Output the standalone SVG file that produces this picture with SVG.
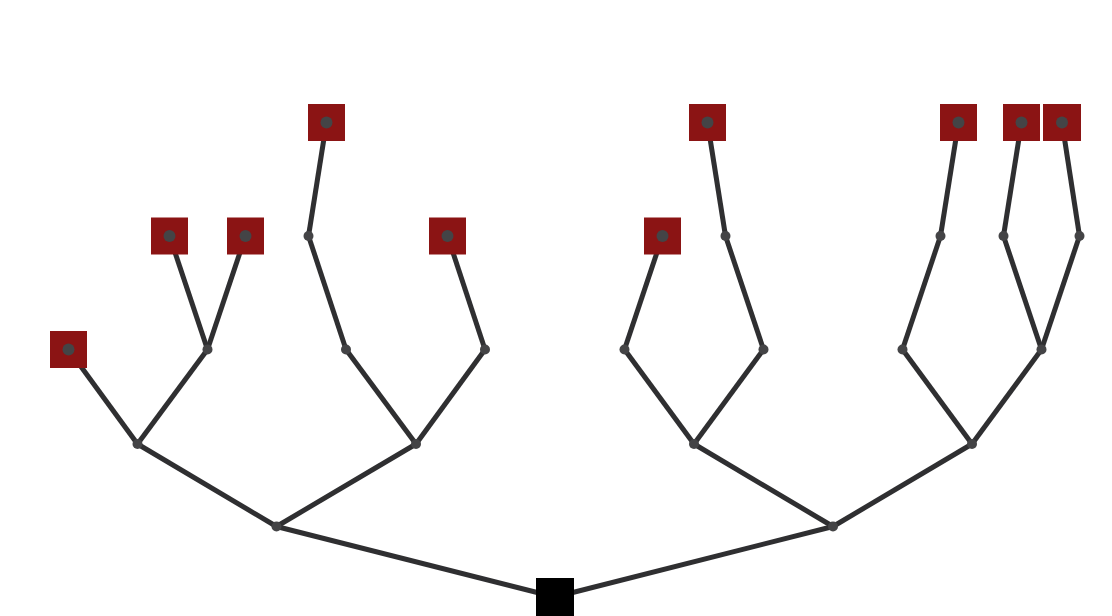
<svg xmlns="http://www.w3.org/2000/svg" width="1112" height="616" viewBox="0 0 1112 616">
<style>
.e{stroke:#2f2f31;stroke-width:5;fill:none;stroke-linecap:butt}
.leaf{fill:#8b1414}
.dot{fill:#444446}
.root{fill:#000}
</style>
<rect width="1112" height="616" fill="#fff"/>
<g id="connectors">
<line class="e" x1="555" y1="597" x2="276.5" y2="526.5"/>
<line class="e" x1="555" y1="597" x2="833" y2="526.5"/>
<line class="e" x1="276.5" y1="526.5" x2="137.5" y2="444"/>
<line class="e" x1="276.5" y1="526.5" x2="416" y2="444"/>
<line class="e" x1="137.5" y1="444" x2="68.5" y2="349.5"/>
<line class="e" x1="137.5" y1="444" x2="207.5" y2="349.5"/>
<line class="e" x1="207.5" y1="349.5" x2="169.5" y2="236"/>
<line class="e" x1="207.5" y1="349.5" x2="245.5" y2="236"/>
<line class="e" x1="416" y1="444" x2="346" y2="349.5"/>
<line class="e" x1="416" y1="444" x2="485" y2="349.5"/>
<line class="e" x1="346" y1="349.5" x2="308.5" y2="236"/>
<line class="e" x1="308.5" y1="236" x2="326.5" y2="122.5"/>
<line class="e" x1="485" y1="349.5" x2="447.5" y2="236"/>
<line class="e" x1="833" y1="526.5" x2="694" y2="444"/>
<line class="e" x1="833" y1="526.5" x2="972" y2="444"/>
<line class="e" x1="694" y1="444" x2="624.5" y2="349.5"/>
<line class="e" x1="694" y1="444" x2="763.5" y2="349.5"/>
<line class="e" x1="624.5" y1="349.5" x2="662.5" y2="236"/>
<line class="e" x1="763.5" y1="349.5" x2="725.5" y2="236"/>
<line class="e" x1="725.5" y1="236" x2="707.5" y2="122.5"/>
<line class="e" x1="972" y1="444" x2="902.5" y2="349.5"/>
<line class="e" x1="972" y1="444" x2="1041.5" y2="349.5"/>
<line class="e" x1="902.5" y1="349.5" x2="940.5" y2="236"/>
<line class="e" x1="940.5" y1="236" x2="958.5" y2="122.5"/>
<line class="e" x1="1041.5" y1="349.5" x2="1003.5" y2="236"/>
<line class="e" x1="1041.5" y1="349.5" x2="1079.5" y2="236"/>
<line class="e" x1="1003.5" y1="236" x2="1021.5" y2="122.5"/>
<line class="e" x1="1079.5" y1="236" x2="1062" y2="122.5"/>
</g>
<g id="root"><rect class="root" x="536" y="578" width="38" height="38"/></g>
<g id="n1"><circle class="dot" cx="276.5" cy="526.5" r="5"/></g>
<g id="n2"><circle class="dot" cx="833" cy="526.5" r="5"/></g>
<g id="n3"><circle class="dot" cx="137.5" cy="444" r="5"/></g>
<g id="n4"><circle class="dot" cx="416" cy="444" r="5"/></g>
<g id="n5"><circle class="dot" cx="694" cy="444" r="5"/></g>
<g id="n6"><circle class="dot" cx="972" cy="444" r="5"/></g>
<g id="n7"><circle class="dot" cx="207.5" cy="349.5" r="5"/></g>
<g id="n8"><circle class="dot" cx="346" cy="349.5" r="5"/></g>
<g id="n9"><circle class="dot" cx="485" cy="349.5" r="5"/></g>
<g id="n10"><circle class="dot" cx="624.5" cy="349.5" r="5"/></g>
<g id="n11"><circle class="dot" cx="763.5" cy="349.5" r="5"/></g>
<g id="n12"><circle class="dot" cx="902.5" cy="349.5" r="5"/></g>
<g id="n13"><circle class="dot" cx="1041.5" cy="349.5" r="5"/></g>
<g id="n14"><circle class="dot" cx="308.5" cy="236" r="5"/></g>
<g id="n15"><circle class="dot" cx="725.5" cy="236" r="5"/></g>
<g id="n16"><circle class="dot" cx="940.5" cy="236" r="5"/></g>
<g id="n17"><circle class="dot" cx="1003.5" cy="236" r="5"/></g>
<g id="n18"><circle class="dot" cx="1079.5" cy="236" r="5"/></g>
<g id="leaf1"><rect class="leaf" x="50" y="331" width="37" height="37"/><circle class="dot" cx="68.5" cy="349.5" r="6"/></g>
<g id="leaf2"><rect class="leaf" x="151" y="217.5" width="37" height="37"/><circle class="dot" cx="169.5" cy="236" r="6"/></g>
<g id="leaf3"><rect class="leaf" x="227" y="217.5" width="37" height="37"/><circle class="dot" cx="245.5" cy="236" r="6"/></g>
<g id="leaf4"><rect class="leaf" x="308" y="104" width="37" height="37"/><circle class="dot" cx="326.5" cy="122.5" r="6"/></g>
<g id="leaf5"><rect class="leaf" x="429" y="217.5" width="37" height="37"/><circle class="dot" cx="447.5" cy="236" r="6"/></g>
<g id="leaf6"><rect class="leaf" x="644" y="217.5" width="37" height="37"/><circle class="dot" cx="662.5" cy="236" r="6"/></g>
<g id="leaf7"><rect class="leaf" x="689" y="104" width="37" height="37"/><circle class="dot" cx="707.5" cy="122.5" r="6"/></g>
<g id="leaf8"><rect class="leaf" x="940" y="104" width="37" height="37"/><circle class="dot" cx="958.5" cy="122.5" r="6"/></g>
<g id="leaf9"><rect class="leaf" x="1003" y="104" width="37" height="37"/><circle class="dot" cx="1021.5" cy="122.5" r="6"/></g>
<g id="leaf10"><rect class="leaf" x="1043" y="104" width="38" height="37"/><circle class="dot" cx="1062" cy="122.5" r="6"/></g>
</svg>
